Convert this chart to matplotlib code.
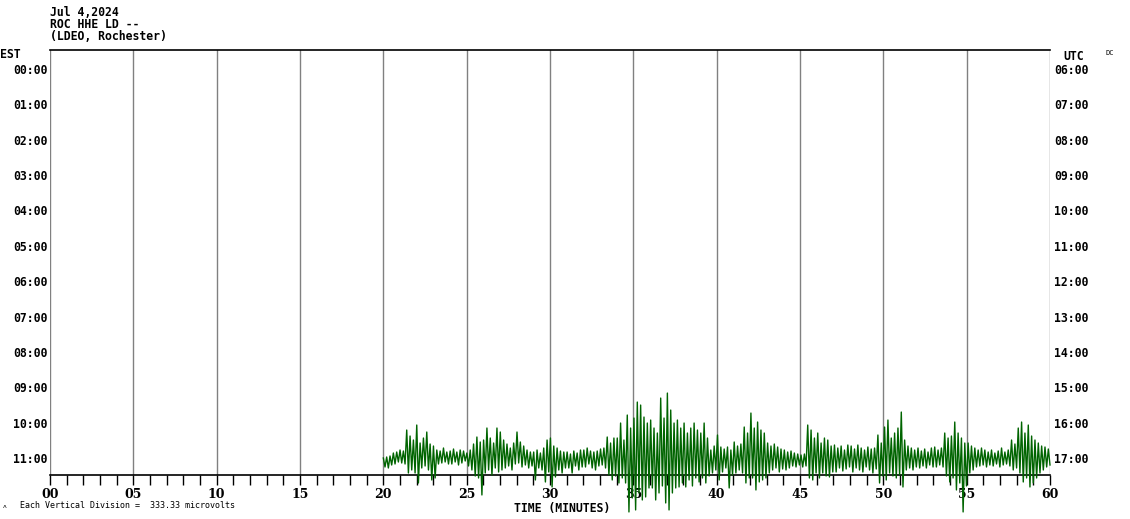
import numpy as np
import matplotlib
matplotlib.use("Agg")
import matplotlib.pyplot as plt

# helicorder header
station_date = "Jul 4,2024"
station_code = "ROC HHE LD --"
station_name = "(LDEO, Rochester)"
uv_per_division = 333.33

# hour rows (one row = 60 minutes)
est_labels = ["00:00", "01:00", "02:00", "03:00", "04:00", "05:00",
              "06:00", "07:00", "08:00", "09:00", "10:00", "11:00"]
utc_labels = ["06:00", "07:00", "08:00", "09:00", "10:00", "11:00",
              "12:00", "13:00", "14:00", "15:00", "16:00", "17:00"]
minute_labels = ["00", "05", "10", "15", "20", "25", "30", "35", "40", "45", "50", "55", "60"]

# trace on the last row (11:00 EST), minute 20 to 60
trace_row = 11
trace_start = 20.0
trace_end = 60.0
counts_per_division = 35.4
# (peak, trough) pairs, counts, 5 pairs per minute
trace_pairs = [
    # 20
    (0, -9), (1, -10), (2, -7), (5, -6), (6, -4),
    # 21
    (8, -5), (7, -6), (28, -15), (22, -12), (18, -15),
    # 22
    (33, -25), (15, -10), (20, -8), (26, -12), (14, -22),
    # 23
    (12, -20), (8, -6), (7, -5), (10, -4), (6, -6),
    # 24
    (7, -6), (9, -4), (6, -7), (8, -5), (7, -3),
    # 25
    (5, -8), (8, -12), (14, -18), (21, -20), (16, -37),
    # 26
    (18, -15), (30, -12), (20, -17), (15, -10), (30, -14),
    # 27
    (26, -12), (18, -10), (14, -8), (10, -12), (15, -6),
    # 28
    (26, -5), (16, -9), (12, -7), (8, -10), (6, -8),
    # 29
    (6, -22), (8, -10), (5, -12), (10, -24), (18, -14),
    # 30
    (20, -29), (12, -19), (10, -12), (7, -15), (6, -10),
    # 31
    (6, -10), (4, -15), (7, -8), (5, -12), (8, -9),
    # 32
    (8, -9), (10, -6), (7, -10), (6, -12), (7, -8),
    # 33
    (9, -7), (10, -10), (21, -17), (15, -22), (20, -18),
    # 34
    (20, -25), (35, -20), (18, -25), (43, -54), (30, -40),
    # 35
    (40, -52), (56, -35), (53, -42), (41, -39), (35, -30),
    # 36
    (38, -30), (30, -42), (25, -35), (60, -28), (40, -45),
    # 37
    (65, -52), (48, -35), (35, -30), (38, -29), (30, -25),
    # 38
    (35, -29), (25, -22), (30, -28), (35, -20), (28, -24),
    # 39
    (25, -20), (35, -25), (20, -18), (8, -15), (12, -12),
    # 40
    (23, -22), (11, -14), (9, -10), (11, -30), (8, -17),
    # 41
    (16, -15), (12, -12), (14, -15), (31, -25), (25, -20),
    # 42
    (45, -20), (30, -32), (36, -24), (28, -22), (25, -20),
    # 43
    (15, -15), (12, -12), (14, -10), (11, -14), (9, -11),
    # 44
    (8, -12), (6, -10), (7, -8), (5, -9), (4, -7),
    # 45
    (3, -9), (4, -8), (33, -20), (28, -22), (20, -15),
    # 46
    (25, -20), (15, -15), (20, -18), (18, -19), (12, -14),
    # 47
    (13, -14), (10, -10), (12, -13), (8, -11), (13, -9),
    # 48
    (12, -14), (9, -10), (13, -12), (10, -14), (8, -9),
    # 49
    (11, -12), (9, -15), (10, -11), (23, -25), (15, -18),
    # 50
    (31, -22), (38, -15), (20, -18), (25, -20), (30, -17),
    # 51
    (46, -29), (18, -12), (12, -10), (10, -12), (8, -9),
    # 52
    (10, -10), (7, -8), (9, -10), (6, -7), (10, -9),
    # 53
    (11, -9), (8, -7), (10, -9), (25, -18), (20, -24),
    # 54
    (22, -20), (36, -32), (25, -25), (20, -54), (15, -28),
    # 55
    (15, -15), (12, -12), (10, -9), (8, -8), (10, -7),
    # 56
    (8, -9), (6, -7), (8, -8), (5, -6), (7, -9),
    # 57
    (10, -7), (6, -6), (8, -8), (18, -12), (14, -10),
    # 58
    (30, -15), (36, -24), (25, -20), (33, -29), (22, -25),
    # 59
    (18, -20), (15, -15), (12, -12), (11, -9), (9, -7),
]

trace = np.array(trace_pairs, dtype=float).ravel()
t = np.linspace(trace_start, trace_end, len(trace))

plt.rcParams["font.family"] = "DejaVu Sans Mono"

fig = plt.figure(figsize=(11.3, 5.19), dpi=100)
W, H = 1130, 519
ax = fig.add_axes([50 / W, 1 - 475 / H, 1000 / W, 425 / H])

ax.set_xlim(0, 60)
ax.set_ylim(11 + 17 / 35.36, -19 / 35.36)

# 5-minute grid
for m in range(0, 61, 5):
    ax.axvline(m, color="#808080", lw=1.0, zorder=1)

ax.plot(t, trace_row - trace / counts_per_division, color="#006400", lw=1.0,
        clip_on=False, zorder=3)

for s in ["left", "right"]:
    ax.spines[s].set_visible(False)
ax.spines["top"].set_linewidth(1.2)
ax.spines["bottom"].set_linewidth(1.2)

ax.set_xticks(range(0, 61))
ax.set_xticklabels([minute_labels[m // 5] if m % 5 == 0 else "" for m in range(61)],
                   fontsize=9, fontweight="bold", family="DejaVu Serif")
ax.tick_params(axis="x", direction="out", length=7, width=1, pad=2, color="black")

ax.set_yticks(range(12))
ax.set_yticklabels(est_labels, fontsize=8.3, fontweight="bold")
ax.tick_params(axis="y", length=0, pad=2)

ax2 = ax.twinx()
ax2.set_ylim(ax.get_ylim())
ax2.set_yticks(range(12))
ax2.set_yticklabels(utc_labels, fontsize=8.3, fontweight="bold")
ax2.tick_params(axis="y", length=0, pad=3)
for s in ax2.spines.values():
    s.set_visible(False)

ax.set_xlabel("TIME (MINUTES)", fontsize=8.3, fontweight="bold")
ax.xaxis.set_label_coords(0.512, -0.063)

fig.text(50 / W, 1 - 12 / H, station_date, fontsize=8.3, fontweight="bold", va="center")
fig.text(50 / W, 1 - 24 / H, station_code, fontsize=8.3, fontweight="bold", va="center")
fig.text(50 / W, 1 - 36 / H, station_name, fontsize=8.3, fontweight="bold", va="center")
fig.text(0 / W, 1 - 55 / H, "EST", fontsize=8.3, fontweight="bold", va="center")
fig.text(1063 / W, 1 - 56 / H, "UTC", fontsize=8.3, fontweight="bold", va="center")
fig.text(1105 / W, 1 - 53 / H, "DC", fontsize=5, va="center")
fig.text(3 / W, 1 - 506 / H, "\u028c", fontsize=4.5, va="center")
fig.text(20 / W, 1 - 505 / H, "Each Vertical Division =  %.2f microvolts" % uv_per_division,
         fontsize=6, va="center")

fig.savefig("out.png", dpi=100, facecolor="white")
